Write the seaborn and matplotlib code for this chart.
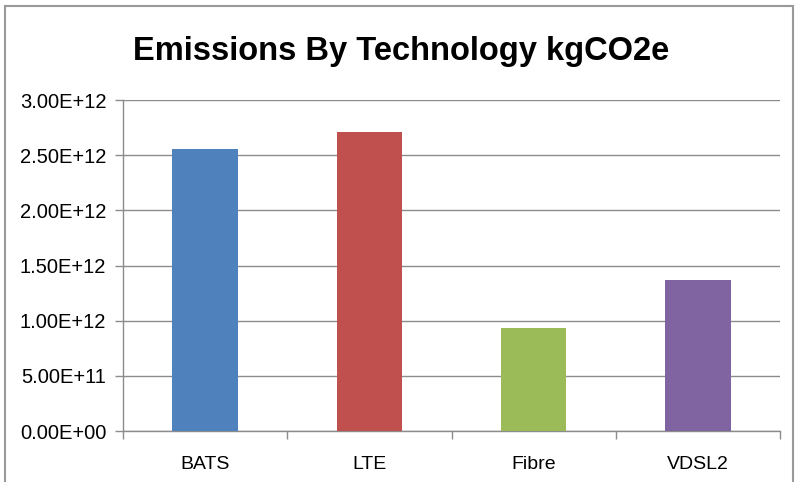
import numpy as np
import pandas as pd
import seaborn as sns
import matplotlib.pyplot as plt
from matplotlib.patches import Rectangle
from matplotlib.ticker import FuncFormatter, FixedLocator

technologies = ['BATS', 'LTE', 'Fibre', 'VDSL2']
emissions = [2.56e12, 2.71e12, 0.93e12, 1.365e12]
bar_colors = ['#4F81BD', '#C0504D', '#9BBB59', '#8064A2']
y_ticks = [0, 0.5e12, 1.0e12, 1.5e12, 2.0e12, 2.5e12, 3.0e12]

sns.set_style('white')
plt.rcParams['font.family'] = ['Liberation Sans', 'DejaVu Sans']
plt.rcParams['text.color'] = 'black'
plt.rcParams['xtick.labelcolor'] = 'black'
plt.rcParams['ytick.labelcolor'] = 'black'

df = pd.DataFrame({'tech': technologies, 'kgCO2e': emissions})

fig = plt.figure(figsize=(7.97, 4.82), dpi=100)
ax = fig.add_axes([0.1543, 0.1058, 0.8244, 0.6867])

sns.barplot(data=df, x='tech', y='kgCO2e', hue='tech', palette=bar_colors,
            width=0.4, saturation=1, legend=False, ax=ax, zorder=3, linewidth=0)

grid_c = '#8c8c8c'
ax.set_ylim(0, 3.0e12)
ax.set_xlim(-0.5, 3.5)
ax.set_yticks(y_ticks)
ax.yaxis.set_major_formatter(FuncFormatter(lambda v, p: '{:.2E}'.format(v)))
ax.yaxis.grid(True, color=grid_c, linewidth=1)
ax.set_axisbelow(True)

ax.xaxis.set_minor_locator(FixedLocator(np.arange(-0.5, 4, 1)))
ax.tick_params(axis='x', which='major', length=0, pad=18, labelsize=14)
ax.tick_params(axis='x', which='minor', length=6, color=grid_c, width=1, direction='out', bottom=True)
ax.tick_params(axis='y', length=6, color=grid_c, width=1, direction='out', left=True, labelsize=14.5, pad=6)

for side in ['top', 'right']:
    ax.spines[side].set_visible(False)
for side in ['left', 'bottom']:
    ax.spines[side].set_color(grid_c)
    ax.spines[side].set_linewidth(1)

ax.set_xlabel('')
ax.set_ylabel('')

fig.text(0.503, 0.893, 'Emissions By Technology kgCO2e', ha='center', va='center',
         fontsize=23.5, fontweight='bold', color='black')

fig.patches.append(Rectangle((0.006, -0.01), 0.989, 0.998, transform=fig.transFigure,
                             fill=False, edgecolor='#999999', linewidth=1.5))

fig.savefig('out.png', dpi=100)
plt.close(fig)
